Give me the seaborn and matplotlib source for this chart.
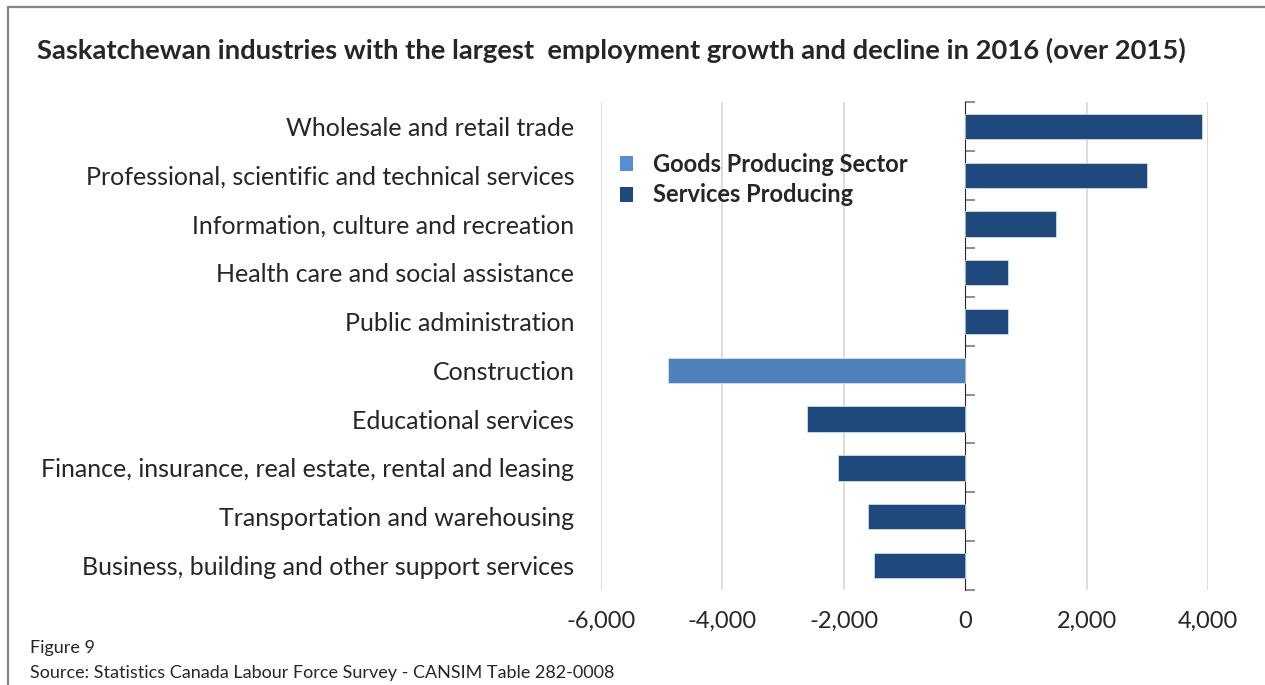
import matplotlib
matplotlib.use("Agg")
import matplotlib.pyplot as plt
from matplotlib.lines import Line2D
from matplotlib.patches import Patch
from matplotlib.ticker import FuncFormatter
import seaborn as sns
import pandas as pd

# Employment change 2016 vs 2015, by industry (top to bottom)
industries = [
    "Wholesale and retail trade",
    "Professional, scientific and technical services",
    "Information, culture and recreation",
    "Health care and social assistance",
    "Public administration",
    "Construction",
    "Educational services",
    "Finance, insurance, real estate, rental and leasing",
    "Transportation and warehousing",
    "Business, building and other support services",
]
changes = [3900, 3000, 1500, 700, 700, -4900, -2600, -2100, -1600, -1500]
sectors = [
    "Services Producing", "Services Producing", "Services Producing",
    "Services Producing", "Services Producing", "Goods Producing Sector",
    "Services Producing", "Services Producing", "Services Producing",
    "Services Producing",
]
x_ticks = [-6000, -4000, -2000, 0, 2000, 4000]

GOODS_BAR = "#4F81BD"
GOODS_KEY = "#558ED5"
SERVICES = "#1F497D"

df = pd.DataFrame({"industry": industries, "change": changes, "sector": sectors})

sns.set_style("white")
plt.rcParams["font.family"] = ["Lato", "DejaVu Sans"]

fig = plt.figure(figsize=(12.65, 6.85), dpi=100)
ax = fig.add_axes([0.475, 0.139, 0.48, 0.712])

sns.barplot(
    data=df, x="change", y="industry", hue="sector", order=industries,
    palette={"Goods Producing Sector": GOODS_BAR, "Services Producing": SERVICES},
    dodge=False, width=0.52, orient="h", ax=ax, legend=False, saturation=1,
    edgecolor="#DCE6F2", linewidth=0.5,
)

ax.set_xlim(-6000, 4000)
ax.set_ylim(len(industries) - 0.5, -0.5)
ax.set_xticks(x_ticks)
ax.xaxis.set_major_formatter(FuncFormatter(lambda v, p: f"{int(v):,}"))
ax.set_xlabel("")
ax.set_ylabel("")
for s in ax.spines.values():
    s.set_visible(False)

# vertical gridlines
for v in x_ticks:
    if v != 0:
        ax.axvline(v, color="#D9D9D9", lw=1.3, zorder=0)

ax.tick_params(axis="x", length=0, pad=15, labelsize=17)
ax.tick_params(axis="y", length=0, pad=19, labelsize=18)

# category axis drawn at zero, with ticks between categories
zero_axis = ax.secondary_yaxis(0.6)
zero_axis.set_yticks([i - 0.5 for i in range(len(industries) + 1)])
zero_axis.set_yticklabels([])
zero_axis.tick_params(axis="y", direction="out", length=7, color="#868686", width=1.3)
zero_axis.spines["left"].set_color("#868686")
zero_axis.spines["left"].set_linewidth(1.3)

handles = [
    Patch(facecolor=GOODS_KEY, edgecolor="none", label="Goods Producing Sector"),
    Patch(facecolor=SERVICES, edgecolor="none", label="Services Producing"),
]
leg = ax.legend(
    handles=handles, loc="upper left", bbox_to_anchor=(-0.003, 0.94),
    frameon=False, handlelength=0.55, handleheight=0.6, handletextpad=0.82,
    labelspacing=0.33, prop={"weight": "bold", "size": 17},
)

fig.text(37 / 1265, 1 - 50 / 685, "Saskatchewan industries with the largest  employment growth and decline in 2016 (over 2015)",
         fontsize=19.7, fontweight="bold", va="center", ha="left")
fig.text(30 / 1265, 1 - 648 / 685, "Figure 9", fontsize=13, va="center", ha="left")
fig.text(30 / 1265, 1 - 673 / 685, "Source: Statistics Canada Labour Force Survey - CANSIM Table 282-0008",
         fontsize=13, va="center", ha="left")

# outer frame
frame_kw = dict(color="#868686", lw=1.6, transform=fig.transFigure)
fig.add_artist(Line2D([8 / 1265, 8 / 1265], [1 - 7 / 685, -0.01], **frame_kw))
fig.add_artist(Line2D([8 / 1265, 1.01], [1 - 7 / 685, 1 - 7 / 685], **frame_kw))

fig.savefig("out.png", dpi=100)
